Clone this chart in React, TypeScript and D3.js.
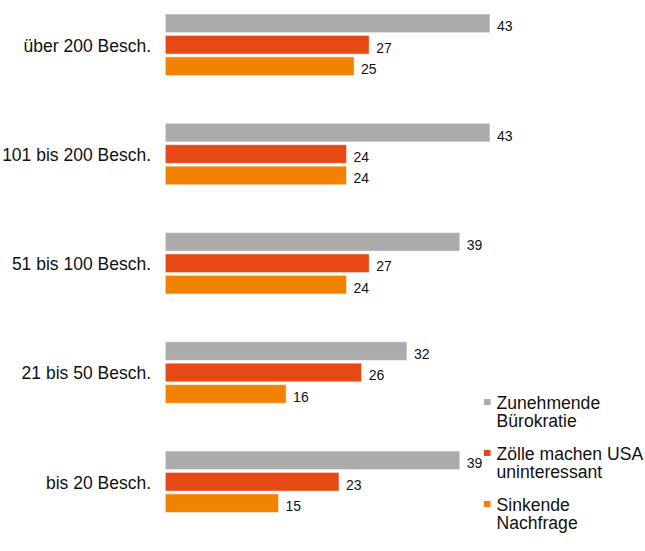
import React from "react";
import * as d3 from "d3";

// Company size classes (top to bottom)
const categories = [
  "über 200 Besch.",
  "101 bis 200 Besch.",
  "51 bis 100 Besch.",
  "21 bis 50 Besch.",
  "bis 20 Besch.",
];

// Series (legend order)
const seriesNames = [
  ["Zunehmende", "Bürokratie"],
  ["Zölle machen USA", "uninteressant"],
  ["Sinkende", "Nachfrage"],
];
const seriesKeys = ["buerokratie", "zoelle", "nachfrage"];
const seriesColors = ["#ababab", "#e64913", "#f18300"];

// Values per series, in category order
const buerokratie = [43, 43, 39, 32, 39];
const zoelle = [27, 24, 27, 26, 23];
const nachfrage = [25, 24, 24, 16, 15];
const seriesValues = [buerokratie, zoelle, nachfrage];

const W = 645;
const H = 551;
const FONT = "'Liberation Sans', Arial, Helvetica, sans-serif";

export default function App() {
  const x = d3.scaleLinear().domain([0, 43]).range([165.3, 490]);
  const y0 = d3
    .scaleBand<string>()
    .domain(categories)
    .range([14, 512.5])
    .paddingInner(0.437)
    .paddingOuter(0);
  const y1 = d3
    .scaleBand<string>()
    .domain(seriesKeys)
    .range([0, y0.bandwidth()])
    .paddingInner(0.13);

  return (
    <svg
      width={W}
      height={H}
      style={{ position: "absolute", left: 0, top: 0, background: "#fff" }}
      fontFamily={FONT}
    >
      {categories.map((cat, ci) => {
        const gy = y0(cat)!;
        const mid = y1(seriesKeys[1])! + y1.bandwidth() / 2;
        return (
          <g key={cat} transform={`translate(0,${gy})`}>
            <text
              x={151}
              y={mid + 7}
              textAnchor="end"
              fontSize={17.5}
              fill="#111"
            >
              {cat}
            </text>
            {seriesKeys.map((key, si) => {
              const v = seriesValues[si][ci];
              const by = y1(key)!;
              const bh = y1.bandwidth();
              return (
                <g key={key}>
                  <rect
                    x={x(0)}
                    y={by}
                    width={x(v) - x(0)}
                    height={bh}
                    fill={seriesColors[si]}
                    stroke="#ffffff"
                    strokeOpacity={0.5}
                    strokeWidth={1}
                  />
                  <text
                    x={x(v) + 7}
                    y={by + bh / 2 + 8}
                    fontSize={14}
                    fill="#111"
                  >
                    {v}
                  </text>
                </g>
              );
            })}
          </g>
        );
      })}

      {/* Legend */}
      {seriesNames.map((lines, si) => {
        const base = 408.5 + si * 51;
        return (
          <g key={seriesKeys[si]}>
            <rect
              x={484}
              y={base - 9.5}
              width={6.5}
              height={6}
              fill={seriesColors[si]}
            />
            {lines.map((ln, li) => (
              <text
                key={li}
                x={496.5}
                y={base + li * 18.7}
                fontSize={17.6}
                fill="#111"
              >
                {ln}
              </text>
            ))}
          </g>
        );
      })}
    </svg>
  );
}
